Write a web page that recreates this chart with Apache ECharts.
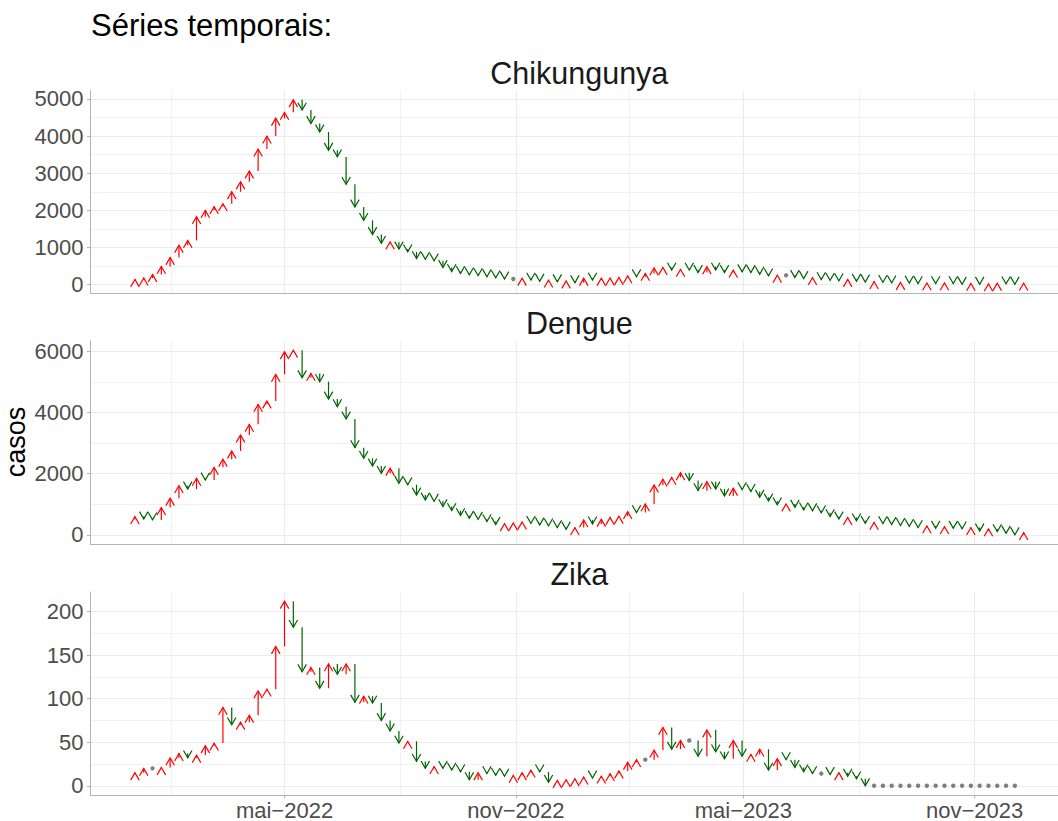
<!DOCTYPE html>
<html>
<head>
<meta charset="utf-8">
<script src="https://cdn.jsdelivr.net/npm/echarts@6/dist/echarts.min.js"></script>
<style>
html,body{margin:0;padding:0;background:#ffffff;}
#chart{width:1058px;height:821px;}
</style>
</head>
<body>
<div id="chart"></div>
<script>
// ---------------- data ----------------
const chartTitle = 'Séries temporais:';
const yAxisTitle = 'casos';
const panelNames = ['Chikungunya', 'Dengue', 'Zika'];

// weekly series; first entry is the week before the first plotted week
const firstWeek = '2021-12-26';

const chikungunya = [100,
  135, 175, 270, 490, 730, 1060, 1190, 1830, 2000, 2100,
  2180, 2500, 2770, 3060, 3650, 4000, 4480, 4640, 4980, 4700,
  4340, 4110, 3620, 3440, 2700, 2090, 1730, 1350, 1110, 1150,
  960, 880, 700, 680, 640, 460, 350, 300, 260, 240,
  210, 180, 150, 150, 170, 120, 90, 120, 75, 95,
  50, 170, 120, 170, 175, 190, 235, 210, 300, 450,
  460, 390, 410, 390, 325, 480, 390, 325, 390, 345,
  325, 280, 235, 250, 250, 190, 165, 185, 135, 115,
  100, 135, 90, 70, 80, 60, 45, 55, 40, 25,
  45, 25, 45, 25, 10, 30, 10, 20, 35, 20,
  8, 38];

const dengue = [500,
  598, 522, 490, 892, 1196, 1609, 1500, 1848, 1794, 2207,
  2469, 2740, 3262, 3610, 4263, 4371, 5242, 5980, 6030, 5133,
  5274, 5003, 4437, 4187, 3785, 2849, 2501, 2251, 2012, 2175,
  1686, 1640, 1305, 1142, 1100, 924, 794, 630, 544, 511,
  435, 340, 365, 390, 420, 380, 326, 294, 239, 185,
  239, 489, 359, 511, 570, 610, 760, 729, 1011, 1631,
  1820, 1880, 2030, 1773, 1446, 1740, 1500, 1272, 1522, 1480,
  1420, 1229, 1109, 980, 1010, 903, 816, 790, 720, 598,
  520, 570, 460, 380, 410, 370, 340, 310, 280, 240,
  294, 217, 272, 217, 196, 239, 130, 196, 109, 54,
  5, 76];

const zika = [13,
  15, 20, 20, 21, 32, 37, 32, 35, 46, 49,
  90, 70, 73, 81, 109, 111, 160, 212, 182, 131,
  136, 112, 140, 128, 140, 96, 103, 95, 75, 63,
  49, 51, 28, 20, 22, 20, 18, 16, 7, 15,
  14, 12, 11, 12, 15, 18, 16, 4, 6, 7,
  8, 10, 9, 11, 14, 17, 27, 30, 30, 41,
  67, 42, 52, 52, 34, 64, 39, 31, 52, 34,
  36, 42, 18, 31, 30, 21, 16, 14, 14, 13,
  15, 11, 8, 0, 0, 0, 0, 0, 0, 0,
  0, 0, 0, 0, 0, 0, 0, 0, 0, 0,
  0];

const xMajorDates = ['2022-05-01', '2022-11-01', '2023-05-01', '2023-11-01'];
const xMajorLabels = ['mai\u22122022', 'nov\u22122022', 'mai\u22122023', 'nov\u22122023'];
const xMinorDates = ['2022-01-30T12:00:00Z', '2022-08-01', '2023-01-30T12:00:00Z', '2023-08-01'];

const yMajorTicks = [[0, 1000, 2000, 3000, 4000, 5000], [0, 2000, 4000, 6000], [0, 50, 100, 150, 200]];
const yMinorTicks = [[500, 1500, 2500, 3500, 4500], [1000, 3000, 5000], [25, 75, 125, 175]];

// ---------------- build ----------------
const seriesValues = [chikungunya, dengue, zika];
const DAY = 86400000;
const week0 = Date.parse(firstWeek);

function weekTime(k) { return week0 + k * 7 * DAY; }

// x range (ggplot-like 5% expansion)
let lastK = 0;
seriesValues.forEach(v => { lastK = Math.max(lastK, v.length - 1); });
const tFirst = weekTime(1), tLast = weekTime(lastK);
const xPad = (tLast - tFirst) * 0.05;
const xMin = tFirst - xPad, xMax = tLast + xPad;

const majorX = xMajorDates.map(d => Date.parse(d));
const minorX = xMinorDates.map(d => Date.parse(d));

const LEFT = 90.5, WIDTH = 977.6, HEIGHT = 203;
const TOPS = [90.5, 341, 592];

const FONT = 'Liberation Sans, Arial, Helvetica, sans-serif';
const AXIS_GREY = '#B3B3B3';
const GRID_GREY = '#EBEBEB';
const TICK_TEXT = '#4D4D4D';

const grids = [], xAxes = [], yAxes = [], series = [];

seriesValues.forEach((vals, i) => {
  const vmin = Math.min(...vals), vmax = Math.max(...vals);
  const yPad = (vmax - vmin) * 0.05;
  grids.push({ left: LEFT, top: TOPS[i], width: WIDTH, height: HEIGHT, containLabel: false, outerBoundsMode: 'none' });
  const isBottom = i === seriesValues.length - 1;
  xAxes.push({
    type: 'value', gridIndex: i, min: xMin, max: xMax, position: 'bottom',
    axisLine: { show: true, onZero: false, lineStyle: { color: AXIS_GREY, width: 1 } },
    axisTick: { show: isBottom, length: 3.5, customValues: majorX, lineStyle: { color: AXIS_GREY, width: 1 } },
    axisLabel: {
      show: isBottom, customValues: majorX, margin: 5, fontSize: 22, lineHeight: 20, color: TICK_TEXT, fontFamily: FONT,
      formatter: v => { const j = majorX.indexOf(v); return j >= 0 ? xMajorLabels[j] : ''; }
    },
    splitLine: { show: true, lineStyle: { color: GRID_GREY, width: 1.2 } }
  });
  xAxes.push({
    type: 'value', gridIndex: i, min: xMin, max: xMax, position: 'top',
    axisLine: { show: false }, axisTick: { show: false, customValues: minorX },
    axisLabel: { show: false, customValues: minorX },
    splitLine: { show: true, lineStyle: { color: GRID_GREY, width: 0.7 } }
  });
  yAxes.push({
    type: 'value', gridIndex: i, min: vmin - yPad, max: vmax + yPad, position: 'left',
    axisLine: { show: true, onZero: false, lineStyle: { color: AXIS_GREY, width: 1 } },
    axisTick: { show: true, length: 3.5, customValues: yMajorTicks[i], lineStyle: { color: AXIS_GREY, width: 1 } },
    axisLabel: { show: true, customValues: yMajorTicks[i], margin: 7, fontSize: 22, color: TICK_TEXT, fontFamily: FONT,
      formatter: v => String(v) },
    splitLine: { show: true, lineStyle: { color: GRID_GREY, width: 1.2 } }
  });
  yAxes.push({
    type: 'value', gridIndex: i, min: vmin - yPad, max: vmax + yPad, position: 'right',
    axisLine: { show: false }, axisTick: { show: false, customValues: yMinorTicks[i] },
    axisLabel: { show: false, customValues: yMinorTicks[i] },
    splitLine: { show: true, lineStyle: { color: GRID_GREY, width: 0.7 } }
  });

  const data = [];
  for (let k = 1; k < vals.length; k++) data.push([weekTime(k), vals[k - 1], vals[k]]);

  series.push({
    type: 'custom', name: panelNames[i], xAxisIndex: 2 * i, yAxisIndex: 2 * i,
    data: data, encode: { x: 0, y: [1, 2] }, clip: false, silent: true,
    renderItem: function (params, api) {
      const t = api.value(0), prev = api.value(1), cur = api.value(2);
      const p1 = api.coord([t, cur]);
      if (prev === cur) {
        return { type: 'circle', shape: { cx: p1[0], cy: p1[1], r: 2.2 }, style: { fill: '#7F7F7F' } };
      }
      const p0 = api.coord([t, prev]);
      const up = cur > prev;
      const color = up ? '#FF0000' : '#006400';
      const L = 8.5, ang = Math.PI / 6;
      const hx = L * Math.sin(ang), hy = L * Math.cos(ang) * (up ? 1 : -1);
      return {
        type: 'group',
        children: [
          { type: 'line', shape: { x1: p0[0], y1: p0[1], x2: p1[0], y2: p1[1] },
            style: { stroke: color, lineWidth: 1.2 } },
          { type: 'polyline', shape: { points: [[p1[0] - hx, p1[1] + hy], [p1[0], p1[1]], [p1[0] + hx, p1[1] + hy]] },
            style: { stroke: color, lineWidth: 1.2, fill: null } }
        ]
      };
    }
  });
});

const stripY = [72.5, 322.5, 574];
const graphics = [
  { type: 'text', x: 91, y: 25, style: { text: chartTitle, fontSize: 31, fontFamily: FONT, fill: '#000000', textAlign: 'left', textVerticalAlign: 'middle' } },
  { type: 'text', x: 16, y: 442, rotation: Math.PI / 2, style: { text: yAxisTitle, fontSize: 27, fontFamily: FONT, fill: '#000000', textAlign: 'center', textVerticalAlign: 'middle' } }
];
panelNames.forEach((n, i) => {
  graphics.push({ type: 'text', x: LEFT + WIDTH / 2, y: stripY[i], style: { text: n, fontSize: 30.5, fontFamily: FONT, fill: '#1A1A1A', textAlign: 'center', textVerticalAlign: 'middle' } });
});

const chart = echarts.init(document.getElementById('chart'), null, { renderer: 'svg' });
chart.setOption({
  backgroundColor: '#ffffff',
  animation: false,
  grid: grids,
  xAxis: xAxes,
  yAxis: yAxes,
  series: series,
  graphic: graphics
});
</script>
</body>
</html>
